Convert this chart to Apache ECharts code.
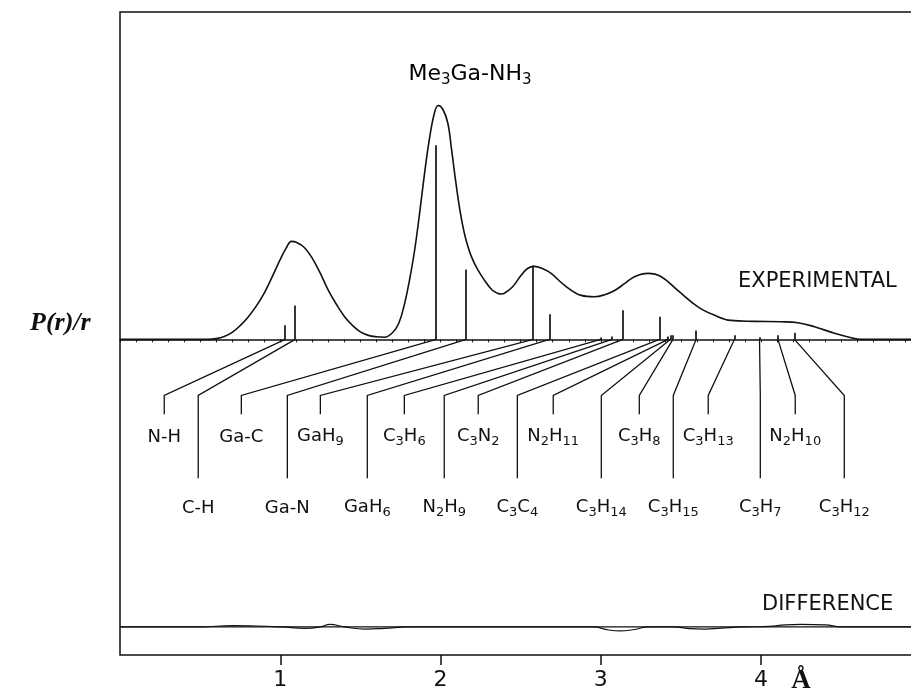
<!DOCTYPE html>
<html><head><meta charset="utf-8">
<script src="https://cdn.jsdelivr.net/npm/echarts@6/dist/echarts.min.js"></script>
<style>html,body{margin:0;padding:0;background:#fff}#c{width:911px;height:695px}</style>
</head><body><div id="c"></div>
<script>
// ---- data (distance r in Angstrom, intensity normalised: main peak = 100) ----
const expR = [0, 0.25, 0.5, 0.55, 0.6, 0.65, 0.7, 0.75, 0.8, 0.85, 0.9, 0.95, 1.0, 1.035, 1.07, 1.10, 1.15, 1.20, 1.25, 1.30, 1.35, 1.40, 1.45, 1.50, 1.55, 1.60, 1.65, 1.70, 1.74, 1.776, 1.807, 1.838, 1.87, 1.90, 1.93, 1.961, 1.985, 2.015, 2.046, 2.067, 2.088, 2.11, 2.129, 2.145, 2.16, 2.19, 2.23, 2.275, 2.32, 2.358, 2.38, 2.40, 2.45, 2.504, 2.545, 2.585, 2.635, 2.69, 2.774, 2.878, 2.96, 3.02, 3.086, 3.15, 3.21, 3.294, 3.377, 3.48, 3.606, 3.71, 3.81, 3.96, 4.125, 4.23, 4.333, 4.458, 4.562, 4.62, 5.06];
const expP = [0, 0, 0, 0, 0.3, 1.2, 3.0, 5.9, 9.6, 14.2, 19.8, 26.8, 34.2, 38.8, 41.9, 41.5, 39.3, 34.6, 28.2, 20.9, 15.0, 9.8, 6.0, 3.2, 1.7, 1.1, 0.9, 2.8, 7.0, 15.4, 25.6, 38.0, 54.3, 70.9, 85.5, 96.6, 100, 98.3, 92.3, 82.1, 70.9, 60.0, 52.0, 46.5, 42.3, 35.8, 30.0, 25.2, 21.2, 19.6, 19.4, 19.8, 22.5, 27.5, 30.4, 31.2, 30.3, 28.2, 23.1, 18.8, 18.2, 19.0, 20.9, 23.9, 26.8, 28.2, 26.8, 20.9, 13.9, 10.3, 8.1, 7.7, 7.5, 7.1, 5.4, 2.6, 0.7, 0, 0];

const atomPairs = ['N-H', 'C-H', 'Ga-C', 'Ga-N', 'GaH9', 'GaH6', 'C3H6', 'N2H9', 'C3N2', 'C3C4', 'N2H11', 'C3H14', 'C3H8', 'C3H15', 'C3H13', 'C3H7', 'N2H10', 'C3H12'];
const pairDistances = [1.031, 1.093, 1.973, 2.160, 2.578, 2.680, 3.00, 3.07, 3.138, 3.366, 3.42, 3.435, 3.45, 3.595, 3.834, 3.99, 4.105, 4.208];
const stickHeights = [6, 14.5, 83, 29.9, 31.6, 10.7, 0.8, 1.2, 12.4, 9.7, 1.2, 1.7, 1.7, 3.8, 1.7, 0.9, 1.7, 2.8];
// horizontal slot (in Angstrom) where each label's leader line ends
const labelSlots = [0.276, 0.488, 0.757, 1.044, 1.250, 1.543, 1.774, 2.023, 2.235, 2.479, 2.703, 3.003, 3.240, 3.452, 3.670, 3.995, 4.213, 4.519];

const diffR = [0, 0.5, 0.7, 0.85, 1.0, 1.16, 1.25, 1.31, 1.4, 1.53, 1.65, 1.8, 2.5, 2.95, 3.05, 3.12, 3.2, 3.3, 3.45, 3.55, 3.65, 3.75, 3.9, 4.05, 4.15, 4.25, 4.4, 4.5, 5.06];
const diffP = [0, 0, 0.6, 0.4, 0, -0.6, 0, 1.1, 0, -0.9, -0.6, 0, 0, 0, -1.3, -1.7, -1.2, 0, 0, -0.7, -0.9, -0.5, 0, 0.2, 0.9, 1.1, 0.9, 0, 0];

const xTicks = [1, 2, 3, 4];
const xTickLabels = ['1', '2', '3', '4'];

// ---- layout constants ----
const X_MAX = 5.06;
const DIFF_OFFSET = -123;
const KNEE_Y = -24;
const ROW_END = [-32, -59.4];
const ROW_TEXT = [-42, -72.2];
const INK = '#111';
const FONT = 'DejaVu Sans';

function toRich(s) {
  return s.split(/(\d+)/).filter(Boolean)
    .map(t => /^\d+$/.test(t) ? '{s|' + t + '}' : '{n|' + t + '}').join('');
}
const richLab = {
  n: { fontFamily: FONT, fontSize: 18, color: INK, height: 20, verticalAlign: 'top' },
  s: { fontFamily: FONT, fontSize: 13, color: INK, height: 14, padding: [8, 0, 0, 0], verticalAlign: 'top' }
};

const chart = echarts.init(document.getElementById('c'), null, { renderer: 'canvas' });

const leaders = atomPairs.map((name, i) => ({
  coords: [[pairDistances[i], 0], [labelSlots[i], KNEE_Y], [labelSlots[i], ROW_END[i % 2]]]
}));
const sticks = atomPairs.map((name, i) => ({
  coords: [[pairDistances[i], 0], [pairDistances[i], stickHeights[i]]]
}));
const labelPts = atomPairs.map((name, i) => ({ name, value: [labelSlots[i], ROW_TEXT[i % 2]] }));

chart.setOption({
  animation: false,
  backgroundColor: '#fff',
  grid: { left: 120, right: -20, top: 12, bottom: 40, outerBoundsMode: 'none', containLabel: false,
    show: true, borderColor: INK, borderWidth: 1.5, backgroundColor: 'transparent' },
  xAxis: [
    {
      type: 'value', min: 0, max: X_MAX, interval: 1, position: 'bottom',
      axisLine: { show: false, onZero: false },
      axisTick: { show: true, length: 10, customValues: xTicks, lineStyle: { color: INK, width: 1.5 } },
      axisLabel: { show: true, margin: 14, fontFamily: FONT, fontSize: 22, color: INK, customValues: xTicks,
        formatter: v => xTickLabels[xTicks.indexOf(Math.round(v))] || '' },
      splitLine: { show: false }
    },
    {
      type: 'value', min: 0, max: X_MAX, interval: 0.1, position: 'bottom',
      axisLine: { show: true, onZero: true, lineStyle: { color: INK, width: 1.5 } },
      axisTick: { show: true, length: 3, lineStyle: { color: INK, width: 1 } },
      axisLabel: { show: false },
      splitLine: { show: false }
    }
  ],
  yAxis: { type: 'value', min: -135, max: 140, show: true, axisLine: { show: false }, axisTick: { show: false }, axisLabel: { show: false }, splitLine: { show: false } },
  series: [
    {
      type: 'line', xAxisIndex: 0, data: expR.map((r, i) => [r, expP[i]]), smooth: 0.4,
      symbol: 'none', lineStyle: { color: INK, width: 1.6 }, silent: true
    },
    {
      type: 'line', xAxisIndex: 0, data: diffR.map((r, i) => [r, DIFF_OFFSET]), symbol: 'none',
      lineStyle: { color: INK, width: 1.3 }, silent: true
    },
    {
      type: 'line', xAxisIndex: 0, data: diffR.map((r, i) => [r, DIFF_OFFSET + diffP[i]]), smooth: 0.5,
      symbol: 'none', lineStyle: { color: INK, width: 1.2 }, silent: true
    },
    {
      type: 'lines', coordinateSystem: 'cartesian2d', xAxisIndex: 0, data: sticks,
      lineStyle: { color: INK, width: 1.7, opacity: 1 }, silent: true
    },
    {
      type: 'lines', coordinateSystem: 'cartesian2d', xAxisIndex: 0, polyline: true, data: leaders,
      lineStyle: { color: INK, width: 1.3, opacity: 1 }, silent: true
    },
    {
      type: 'scatter', xAxisIndex: 0, data: labelPts, symbolSize: 0, silent: true,
      itemStyle: { opacity: 1, color: INK },
      label: { show: true, position: 'inside', color: INK, opacity: 1, formatter: p => toRich(p.name), rich: richLab }
    }
  ],
  graphic: [
    { type: 'text', x: 470, y: 75, style: { text: '{n|Me}{s|3}{n|Ga-NH}{s|3}', align: 'center', verticalAlign: 'middle',
      rich: { n: { fontFamily: FONT, fontSize: 22, color: INK, height: 24, verticalAlign: 'top' },
              s: { fontFamily: FONT, fontSize: 15, color: INK, height: 16, padding: [10, 0, 0, 0], verticalAlign: 'top' } } } },
    { type: 'text', x: 738, y: 282, style: { text: 'EXPERIMENTAL', fontFamily: FONT, fontSize: 21, fill: INK, align: 'left', verticalAlign: 'middle' } },
    { type: 'text', x: 762, y: 605, style: { text: 'DIFFERENCE', fontFamily: FONT, fontSize: 21, fill: INK, align: 'left', verticalAlign: 'middle' } },
    { type: 'text', x: 30, y: 323, style: { text: 'P(r)/r', fontFamily: 'Liberation Serif', fontStyle: 'italic', fontWeight: 'bold', fontSize: 26, fill: INK, align: 'left', verticalAlign: 'middle' } },
    { type: 'text', x: 801, y: 681, style: { text: 'Å', fontFamily: 'Liberation Serif', fontWeight: 'bold', fontSize: 27, fill: INK, align: 'center', verticalAlign: 'middle' } }
  ]
});
</script>
</body></html>
